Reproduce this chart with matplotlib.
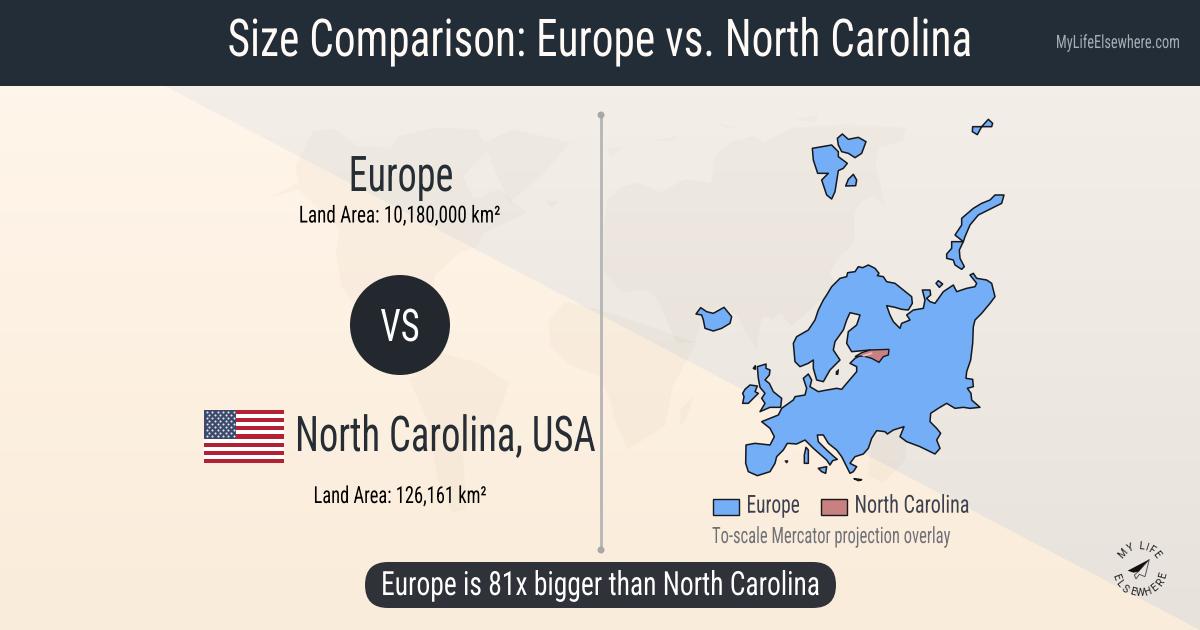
import numpy as np
import matplotlib
matplotlib.use('Agg')
import matplotlib.pyplot as plt
from matplotlib.patches import Polygon, Rectangle, Circle, FancyBboxPatch
from matplotlib.patheffects import AbstractPathEffect
from matplotlib.text import Text
from matplotlib.transforms import Affine2D, Bbox

plt.rcParams['font.family'] = ['Roboto Condensed', 'Roboto', 'DejaVu Sans']

title = 'Size Comparison: Europe vs. North Carolina'
site = 'MyLifeElsewhere.com'
place_a = 'Europe'
place_b = 'North Carolina, USA'
area_a = 'Land Area: 10,180,000 km²'
area_b = 'Land Area: 126,161 km²'
legend_a = 'Europe'
legend_b = 'North Carolina'
note = 'To-scale Mercator projection overlay'
verdict = 'Europe is 81x bigger than North Carolina'
logo_top = 'MYLIFE'
logo_top_angles = [139, 114, 84, 72, 58, 38]
logo_bottom = 'ELSEWHERE'

mainland = [(340,730),(350,710),(385,690),(405,660),(415,630),(430,600),(440,585),(455,560),(480,535),(500,530),
    (503,518),(525,515),(535,500),(548,503),(565,495),(585,505),(597,520),(592,527),(610,530),(620,545),(645,550),
    (670,570),(695,590),(697,610),(685,630),(665,628),(645,622),(620,617),(630,645),(640,665),(660,685),(665,670),
    (690,660),(680,645),(700,630),(730,625),(735,600),(727,570),(750,570),(752,585),(740,595),(750,605),(765,610),
    (790,575),(820,555),(830,575),(860,565),(885,560),(890,550),(870,525),(880,520),(890,535),(920,540),(935,550),
    (945,590),(930,610),(905,640),(885,660),(880,680),(878,730),(872,780),(860,815),(858,835),(878,838),(880,860),
    (862,865),(873,880),(875,900),(900,922),(870,925),(850,922),(825,925),(800,910),(775,925),(752,940),(750,965),
    (770,985),(782,1000),(770,1020),(780,1045),(765,1062),(720,1040),(680,1025),(660,1010),(672,980),(640,990),
    (622,1002),(615,995),(590,992),(575,1015),(565,1045),(550,1062),(525,1070),(510,1090),(530,1100),(520,1115),
    (510,1120),(500,1100),(485,1070),(470,1050),(445,1030),(430,1005),(412,1005),(415,1025),(440,1050),(462,1070),
    (472,1078),(458,1082),(450,1095),(440,1080),(400,1045),(375,1020),(350,1032),(322,1030),(310,1050),(290,1070),
    (285,1090),(270,1115),(232,1127),(205,1115),(197,1090),(198,1035),(225,1030),(270,1035),(283,1010),(270,985),
    (245,965),(270,955),(295,945),(305,925),(340,900),(345,890),(375,885),(380,865),(370,835),(385,822),(395,840),
    (390,860),(415,875),(430,872),(470,865),(485,868),(500,850),(530,815),(530,800),(510,790),(525,775),(570,750),
    (515,755),(500,730),(505,695),(530,675),(540,645),(510,638),(500,660),(490,690),(465,725),(460,750),(480,780),
    (450,810),(430,845),(410,840),(400,805),(400,780),(385,790),(360,800),(345,785)]
britain = [(232,800),(258,792),(258,805),(270,810),(268,825),(255,840),(268,850),(280,875),(305,895),(302,922),
    (270,922),(240,935),(255,910),(245,895),(255,880),(240,862),(235,835)]
ireland = [(195,868),(210,855),(232,858),(225,875),(235,880),(205,910),(188,910),(192,890),(188,880)]
iceland = [(48,642),(62,623),(80,635),(100,640),(132,622),(155,650),(150,670),(125,685),(100,693),(75,685),(70,660),(65,645)]
sicily = [(415,1105),(440,1100),(437,1120),(425,1115)]
corsica = [(378,1042),(385,1050),(385,1090),(373,1090),(373,1065)]
svalbard_w = [(397,145),(455,135),(475,155),(475,170),(502,190),(490,205),(475,212),(465,275),(455,297),(440,285),
    (425,240),(445,220),(413,220),(400,180)]
svalbard_n = [(472,115),(487,102),(505,118),(535,112),(558,125),(545,160),(525,173),(505,160),(485,155),(475,135)]
svalbard_s = [(497,258),(505,238),(520,223),(530,240),(527,257)]
franz_josef = [(878,80),(905,80),(925,58),(938,70),(935,80),(905,80),(892,104),(877,95)]
zemlya_n = [(825,405),(845,375),(845,355),(880,325),(905,310),(930,300),(945,285),(972,285),(965,310),(935,325),
    (895,345),(870,375),(855,410),(850,425)]
zemlya_s = [(815,425),(850,425),(838,450),(840,475),(853,500),(845,508),(825,495),(820,480),(800,475),(800,462),(815,445)]
kolguev = [(768,550),(775,542),(788,552),(778,562)]
shetland = [(220,805),(226,797),(226,808)]
majorca = [(316,1083),(323,1083),(320,1088)]
crete = [(522,1136),(545,1139),(535,1142)]
gotland = [(468,815),(476,808),(474,824),(468,824)]
europe_parts = [mainland, britain, ireland, iceland, sicily, corsica, svalbard_w, svalbard_n, svalbard_s,
    franz_josef, zemlya_n, zemlya_s, kolguev, shetland, majorca, crete]
north_carolina = [(525,770),(545,758),(570,750),(627,748),(625,765),(610,770),(597,787),(575,775),(550,768)]
nc_sliver = [(545,766),(575,757),(578,761),(552,770)]

# faint world map, Americas from the left crop (origin 120, 86; x scale 2.8)
bg_america = [(490,240),(520,180),(540,135),(600,128),(665,180),(760,185),(780,150),(880,125),(1000,130),(1030,195),
    (960,270),(990,340),(1060,310),(1140,380),(1020,440),(1000,480),(950,500),(880,570),(880,650),(850,640),(830,580),
    (760,590),(770,710),(830,790),(800,780),(700,720),(620,600),(605,500),(615,430),(500,310),(420,335),(500,290)]
bg_south_america = [(810,880),(900,800),(1000,830),(1090,890),(1050,1010),(960,1100),(970,1270),(930,1280),(890,1180),(860,1000)]
bg_greenland = [(1020,170),(1100,130),(1260,170),(1180,270),(1090,350),(1060,280)]
bg_iceland = [(1190,345),(1230,345),(1210,368)]
# and the old world from the right crop (origin 600, 86; x scale 2.613)
bg_eurasia = [(10,420),(20,340),(60,300),(100,290),(160,320),(220,280),(290,290),(300,210),(340,170),(400,150),(430,170),
    (500,125),(640,115),(800,125),(790,165),(730,185),(720,230),(745,360),(715,330),(680,350),(665,380),(665,470),
    (620,520),(600,560),(620,600),(580,640),(540,680),(500,720),(470,680),(450,700),(430,690),(420,710),(410,790),
    (385,750),(360,690),(320,660),(270,680),(250,770),(200,770),(150,640),(120,610),(60,620),(10,560)]
bg_australia = [(700,1170),(710,1060),(770,1010),(800,1060),(800,1120),(740,1190)]
bg_isles_a = [(510,100),(570,85),(560,110)]
bg_isles_b = [(310,110),(360,125),(330,125)]
bg_isles_c = [(140,165),(200,150),(190,165)]
bg_isles_d = [(20,190),(60,180),(30,215)]
bg_madagascar = [(245,930),(225,1000),(210,1020),(210,970)]
# Africa straddles the divider, picture pixels
bg_africa = [(549,320),(565,302),(600,310),(645,325),(696,343),(673,386),(665,426),(642,441),(627,449),(615,420),
    (611,403),(600,376),(570,365),(550,345)]

# paper plane in the logo, 3x crop pixels with the origin at (1090, 530)
plane_wing = [(113,122),(178,88),(145,125),(130,128)]
plane_body = [(178,88),(165,140),(148,133),(138,147),(133,135),(145,125)]

dark = '#222d38'
ink = '#262d35'
blue = '#74aef7'
red = '#c98080'


def crop_pts(pts, ox=680, oy=100, sx=3):
    return [(ox + x / sx, oy + y / 3) for x, y in pts]


# the condensed web font is not installed, so squeeze the closest one sideways
class Squeeze(AbstractPathEffect):
    def __init__(self, sq, x0):
        super().__init__()
        self.sq = sq
        self.x0 = x0

    def draw_path(self, renderer, gc, tpath, affine, rgbFace=None):
        squeezed = affine + Affine2D().translate(-self.x0, 0).scale(self.sq, 1).translate(self.x0, 0)
        renderer.draw_path(gc, tpath, squeezed, rgbFace)


class NarrowText(Text):
    def __init__(self, x, y, s, sq, **kw):
        super().__init__(x, y, s, **kw)
        self.sq = sq
        self.set_path_effects([Squeeze(sq, x)])

    def get_window_extent(self, renderer=None, dpi=None):
        bb = super().get_window_extent(renderer, dpi)
        x0 = self.get_position()[0]
        return Bbox.from_extents(x0 + (bb.x0 - x0) * self.sq, bb.y0, x0 + (bb.x1 - x0) * self.sq, bb.y1)


def label(x, y, s, sq, size, color, ha='center'):
    ax.add_artist(NarrowText(x, y, s, sq, fontsize=size, color=color, ha=ha, va='baseline', zorder=5))


fig = plt.figure(figsize=(12, 6.3), dpi=100)
ax = fig.add_axes([0, 0, 1, 1])
ax.set_xlim(0, 1200)
ax.set_ylim(630, 0)
ax.axis('off')

# two-tone background split by the diagonal
yy = np.linspace(0, 1, 64)[:, None]
warm = np.array([255, 245, 234]) + yy[:, :, None] * (np.array([250, 236, 218]) - np.array([255, 245, 234]))
cool = np.array([243, 239, 232]) + yy[:, :, None] * (np.array([232, 226, 220]) - np.array([243, 239, 232]))
im1 = ax.imshow(warm / 255, extent=(0, 1200, 630, 86), aspect='auto', zorder=0)
im2 = ax.imshow(cool / 255, extent=(0, 1200, 630, 86), aspect='auto', zorder=0)
tri = Polygon([(165, 86), (1200, 86), (1200, 630)], closed=True, transform=ax.transData, fc='none', ec='none')
ax.add_patch(tri)
im2.set_clip_path(tri)
ax.set_xlim(0, 1200)
ax.set_ylim(630, 0)

shapes = [crop_pts(p, 120, 86, 2.8) for p in (bg_america, bg_south_america, bg_greenland, bg_iceland)]
shapes += [crop_pts(p, 600, 86, 2.613) for p in (bg_eurasia, bg_australia, bg_isles_a, bg_isles_b, bg_isles_c, bg_isles_d, bg_madagascar)]
shapes.append(bg_africa)
for land in shapes:
    ax.add_patch(Polygon(land, closed=True, fc='#8a6430', ec='none', alpha=0.03, zorder=1))

# header
ax.add_patch(Rectangle((0, 0), 1200, 86, fc=dark, ec='none', zorder=2))
label(600, 56, title, 0.832, 37.5, '#fffaf5')
label(1118, 48, site, 0.78, 13.2, '#a8adb3')

# divider
ax.plot([601, 601], [115, 550], color='#b5b5b5', lw=2, zorder=2)
ax.add_patch(Circle((601, 115), 3.5, fc='#a8a8a8', ec='none', zorder=2))
ax.add_patch(Circle((601, 550), 3.5, fc='#a8a8a8', ec='none', zorder=2))

# left column
label(401, 191, place_a, 0.775, 35.4, ink)
label(400, 222.5, area_a, 0.813, 16.9, 'black')
ax.add_patch(Circle((400, 325), 50, fc='#22282d', ec='none', zorder=3))
label(400, 341, 'VS', 0.81, 32.4, 'white')
label(295, 451, place_b, 0.785, 35.4, ink, ha='left')
label(400, 503, area_b, 0.786, 16.9, 'black')

# flag
stripe_h = 53 / 13
for i in range(13):
    ax.add_patch(Rectangle((204, 410 + i * stripe_h), 80, stripe_h, fc='#b22234' if i % 2 == 0 else 'white', ec='none', zorder=3))
ax.add_patch(Rectangle((204, 410), 32, 7 * stripe_h, fc='#3c4a6c', ec='none', zorder=3))
sx, sy = [], []
for row in range(9):
    n = 6 if row % 2 == 0 else 5
    for c in range(n):
        sx.append(206.7 + c * 5.4 + (0 if row % 2 == 0 else 2.7))
        sy.append(411.8 + row * 3.05)
ax.scatter(sx, sy, s=2.2, c='#e8e8ee', linewidths=0, zorder=4)

# map
for part in europe_parts:
    ax.add_patch(Polygon(crop_pts(part), closed=True, fc=blue, ec='#15181c', lw=1.1, joinstyle='round', zorder=3))
ax.add_patch(Polygon(crop_pts(gotland), closed=True, fc='#15181c', ec='#15181c', lw=0.5, zorder=4))
ax.add_patch(Polygon(crop_pts(north_carolina), closed=True, fc=red, ec='#15181c', lw=1, zorder=5))
ax.add_patch(Polygon(crop_pts(nc_sliver), closed=True, fc='#e3c4c4', ec='none', zorder=6))

# legend
ax.add_patch(Rectangle((712.5, 498.5), 26, 16, fc=blue, ec='#15181c', lw=1, zorder=3))
label(746.5, 512.7, legend_a, 0.78, 17.9, '#3d414f', ha='left')
ax.add_patch(Rectangle((820.5, 498.5), 26, 16, fc=red, ec='#15181c', lw=1, zorder=3))
label(854.5, 512.7, legend_b, 0.81, 17.9, '#3d414f', ha='left')
label(712, 543, note, 0.735, 16.2, '#6f7078', ha='left')

# verdict pill
ax.add_patch(FancyBboxPatch((365, 562), 471, 46, boxstyle='round,pad=0,rounding_size=23',
                            fc='#2f3339', ec='none', zorder=3))
label(600.5, 595, verdict, 0.826, 24, 'white')

# logo
cx, cy = 1139.3, 568.3
for ch, ang in zip(logo_top, logo_top_angles):
    a = np.radians(ang)
    ax.text(cx + 22 * np.cos(a), cy - 22 * np.sin(a), ch, color='#222', fontsize=7.5, family='Roboto',
            ha='center', va='center', rotation=ang - 90, zorder=4)
for ch, ang in zip(logo_bottom, np.linspace(200, 344, len(logo_bottom))):
    a = np.radians(ang)
    ax.text(cx + 25 * np.cos(a), cy - 25 * np.sin(a), ch, color='#222', fontsize=7.5, family='Roboto',
            ha='center', va='center', rotation=ang + 90, zorder=4)
ax.add_patch(Polygon(crop_pts(plane_body, 1090, 530), closed=True, fc='none', ec='#555', lw=0.7, zorder=4))
ax.add_patch(Polygon(crop_pts(plane_wing, 1090, 530), closed=True, fc='#111', ec='none', zorder=4))

fig.savefig('out.png', dpi=100)
